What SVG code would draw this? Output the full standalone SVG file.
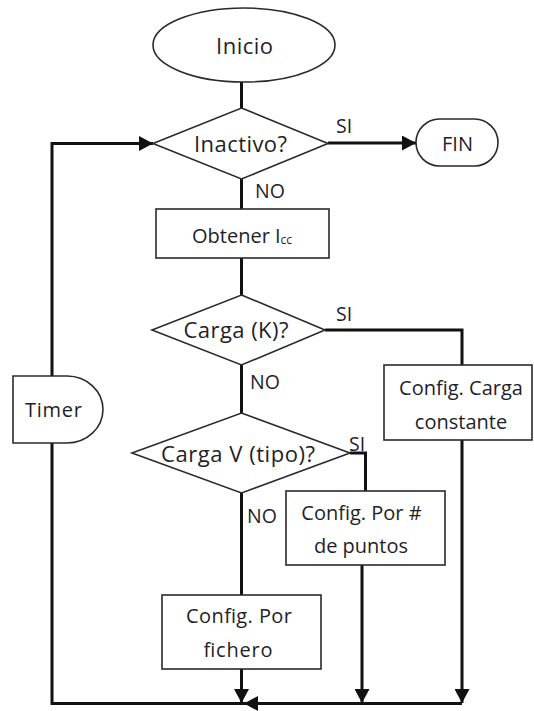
<svg xmlns="http://www.w3.org/2000/svg" width="534" height="711" viewBox="0 0 534 711">
  <style>
    .shape { fill: #ffffff; stroke: #2a2a2a; stroke-width: 1.6; }
    .link { fill: none; stroke: #111111; stroke-width: 3; stroke-linejoin: miter; }
    .arrow { marker-end: url(#head); }
    text { font-family: "Open Sans", "Noto Sans", "Liberation Sans", sans-serif; fill: #1e1e2a; }
    .big { font-size: 22px; text-anchor: middle; }
    .box { font-size: 20px; text-anchor: middle; }
    .lbl { font-size: 19.5px; }
  </style>
  <defs>
    <marker id="head" markerUnits="userSpaceOnUse" markerWidth="15" markerHeight="15" refX="14" refY="7.5" orient="auto">
      <path d="M0,0 L14,7.5 L0,15 Z" fill="#111111"/>
    </marker>
  </defs>

  <!-- connectors -->
  <g id="connectors">
    <path class="link" d="M241.5,82 V108"/>
    <path class="link arrow" d="M328,143 H416"/>
    <path class="link" d="M241.5,179 V209"/>
    <path class="link" d="M241.5,258 V295"/>
    <path class="link" d="M325,330 H462 V365"/>
    <path class="link" d="M241.5,365 V413"/>
    <path class="link" d="M350,453 H365.5 V491"/>
    <path class="link" d="M241.5,493 V595"/>
    <path class="link arrow" d="M462,440 V703"/>
    <path class="link arrow" d="M362,565 V703"/>
    <path class="link arrow" d="M241.5,669 V703"/>
    <path class="link arrow" d="M462,703.5 H244"/>
    <path class="link" d="M246,703.5 H52 V443"/>
    <path class="link arrow" d="M52,376 V143.5 H153"/>
  </g>

  <g id="inicio">
    <ellipse class="shape" cx="244" cy="45" rx="91" ry="37"/>
    <text class="big" x="244.5" y="54" textLength="57" lengthAdjust="spacing">Inicio</text>
  </g>

  <g id="inactivo">
    <polygon class="shape" points="241.5,108 328,143.5 241.5,179 153,143.5"/>
    <text class="big" x="240.5" y="152" textLength="93" lengthAdjust="spacing">Inactivo?</text>
  </g>

  <g id="fin">
    <rect class="shape" x="416" y="119" width="82" height="47" rx="23.5" ry="23.5"/>
    <text class="box" x="457.5" y="151">FIN</text>
  </g>

  <g id="obtener">
    <rect class="shape" x="156" y="209" width="173" height="49"/>
    <text x="192" y="243" font-size="20">Obtener I<tspan font-size="12" dy="1">cc</tspan></text>
  </g>

  <g id="carga-k">
    <polygon class="shape" points="241.5,295 325,330 241.5,365 152,330"/>
    <text class="big" x="236" y="338" textLength="105" lengthAdjust="spacing">Carga (K)?</text>
  </g>

  <g id="config-constante">
    <rect class="shape" x="384" y="365" width="148" height="75"/>
    <text class="box" x="461" y="395">Config. Carga</text>
    <text class="box" x="461" y="429">constante</text>
  </g>

  <g id="carga-v">
    <polygon class="shape" points="241.5,413 350,453 241.5,493 132,453"/>
    <text class="big" x="238" y="462" textLength="154" lengthAdjust="spacing">Carga V (tipo)?</text>
  </g>

  <g id="config-puntos">
    <rect class="shape" x="286" y="491" width="159" height="74"/>
    <text class="box" x="361.5" y="520">Config. Por #</text>
    <text class="box" x="361" y="553">de puntos</text>
  </g>

  <g id="config-fichero">
    <rect class="shape" x="162" y="595" width="159" height="74"/>
    <text class="box" x="239" y="623" textLength="106" lengthAdjust="spacing">Config. Por</text>
    <text class="box" x="238" y="657" textLength="69" lengthAdjust="spacing">fichero</text>
  </g>

  <g id="timer">
    <path class="shape" d="M13,376 H67 A36,33.5 0 0 1 67,443 H13 Z"/>
    <text class="box" x="53.5" y="417" textLength="57" lengthAdjust="spacing">Timer</text>
  </g>

  <!-- branch labels -->
  <g id="labels">
    <text class="lbl" x="336" y="133">SI</text>
    <text class="lbl" x="255" y="198">NO</text>
    <text class="lbl" x="336" y="321">SI</text>
    <text class="lbl" x="250" y="389">NO</text>
    <text class="lbl" x="349" y="451">SI</text>
    <text class="lbl" x="247" y="523">NO</text>
  </g>
</svg>
